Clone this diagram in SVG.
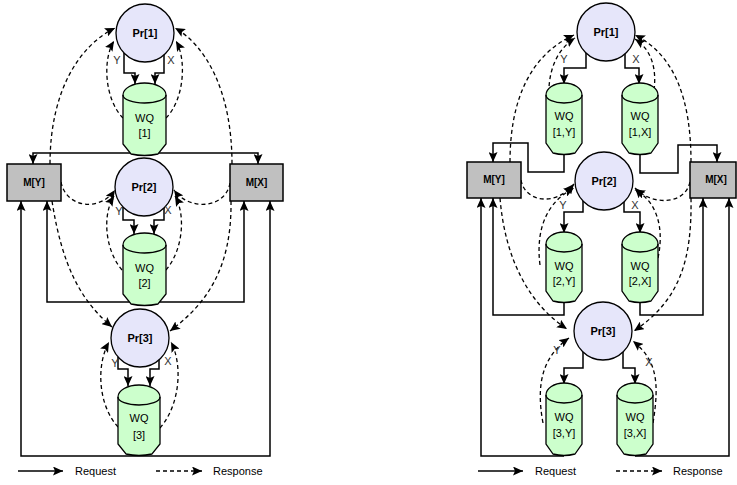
<svg xmlns="http://www.w3.org/2000/svg" width="737" height="485" viewBox="0 0 737 485">
<style>
.pr{fill:#e6e6fa;stroke:#000;stroke-width:1.3}
.wq{fill:#ccffcc;stroke:#000;stroke-width:1.3}
.in{fill:none;stroke:#000;stroke-width:1.3}
.m{fill:#c0c0c0;stroke:#000;stroke-width:1.5}
.req{fill:none;stroke:#000;stroke-width:1.5;marker-end:url(#ah)}
.rsp{fill:none;stroke:#000;stroke-width:1.3;stroke-dasharray:4 3;marker-end:url(#ah)}
.tb{font-family:"Liberation Sans",Arial,sans-serif;font-weight:bold;font-size:11px;text-anchor:middle;fill:#000}
.tm{font-family:"Liberation Sans",Arial,sans-serif;font-weight:bold;font-size:10px;text-anchor:middle;fill:#000}
.t{font-family:"Liberation Sans",Arial,sans-serif;font-size:11px;text-anchor:middle;fill:#000}
.lb{font-family:"Liberation Sans",Arial,sans-serif;font-size:11px;text-anchor:middle;fill:#333}
.lg{font-family:"Liberation Sans",Arial,sans-serif;font-size:11px;fill:#000}
</style>
<defs>
<marker id="ah" viewBox="0 0 10 9" refX="10" refY="4.5" markerWidth="10" markerHeight="9" markerUnits="userSpaceOnUse" orient="auto">
<path d="M0,0 L10,4.5 L0,9 L2,4.5 Z" fill="#000" stroke="none"/>
</marker>
</defs>

<!-- LEFT DIAGRAM -->
<g id="connectors-left">
<path class="req" d="M144,153 H33 V164"/>
<path class="req" d="M144,153 H258 V164"/>
<path class="req" d="M145,302 H47 V201"/>
<path class="req" d="M145,302 H244 V201"/>
<path class="req" d="M139,456 H21 V201"/>
<path class="req" d="M139,456 H270 V201"/>
<path class="req" d="M124,53 V73 H135 V84"/>
<path class="req" d="M164,54 V73 H155 V84"/>
<path class="req" d="M123,207 V220 H134 V234"/>
<path class="req" d="M164,208 V220 H154 V234"/>
<path class="req" d="M118,357 V369 H128 V386"/>
<path class="req" d="M159,360 V369 H150 V386"/>
<path class="rsp" d="M50,164 C50,90 80,45 115,28"/>
<path class="rsp" d="M123,118 C105,100 102,60 114,41"/>
<path class="rsp" d="M232,164 C232,90 205,45 175,28"/>
<path class="rsp" d="M166,118 C184,100 187,60 176,41"/>
<path class="rsp" d="M61,182 C66,208 100,212 115,190"/>
<path class="rsp" d="M122,270 C105,250 102,215 114,196"/>
<path class="rsp" d="M230,183 C226,208 190,212 174,190"/>
<path class="rsp" d="M166,270 C183,250 186,215 175,196"/>
<path class="rsp" d="M52,201 C62,265 80,300 112,327"/>
<path class="rsp" d="M118,427 C98,405 96,365 109,342"/>
<path class="rsp" d="M231,201 C232,270 205,305 170,331"/>
<path class="rsp" d="M160,428 C180,405 183,365 171,342"/>
</g>

<g id="L-Pr1"><circle class="pr" cx="145" cy="33" r="29"/><text class="tb" x="145" y="37">Pr[1]</text>
<text class="lb" x="117" y="64">Y</text><text class="lb" x="171" y="64">X</text></g>
<g id="L-WQ1"><path class="wq" d="M123,95 A21.5,12 0 0 1 166,95 L166,144 L158,154 Q144.5,157 131,154 L123,144 Z"/><path class="in" d="M123,95 A21.5,8 0 0 0 166,95"/>
<text class="t" x="144.5" y="122">WQ</text><text class="t" x="144.5" y="137">[1]</text></g>
<g id="L-MY"><rect class="m" x="7" y="164" width="54" height="37"/><text class="tm" x="34" y="186">M[Y]</text></g>
<g id="L-MX"><rect class="m" x="230" y="164" width="53" height="37"/><text class="tm" x="256.5" y="186">M[X]</text></g>
<g id="L-Pr2"><circle class="pr" cx="144" cy="187" r="29"/><text class="tb" x="144" y="191">Pr[2]</text>
<text class="lb" x="119" y="215">Y</text><text class="lb" x="168" y="214">X</text></g>
<g id="L-WQ2"><path class="wq" d="M123,245 A21.5,12 0 0 1 166,245 L166,294 L158,304 Q144.5,307 131,304 L123,294 Z"/><path class="in" d="M123,245 A21.5,8 0 0 0 166,245"/>
<text class="t" x="144.5" y="272">WQ</text><text class="t" x="144.5" y="287">[2]</text></g>
<g id="L-Pr3"><circle class="pr" cx="140" cy="338" r="29"/><text class="tb" x="140" y="342">Pr[3]</text>
<text class="lb" x="115" y="367">Y</text><text class="lb" x="168" y="365">X</text></g>
<g id="L-WQ3"><path class="wq" d="M118,397 A21,12 0 0 1 160,397 L160,444 L152,454 Q139,457 126,454 L118,444 Z"/><path class="in" d="M118,397 A21,8 0 0 0 160,397"/>
<text class="t" x="139" y="422">WQ</text><text class="t" x="139" y="439">[3]</text></g>
<g id="L-legend">
<path class="req" d="M18,471 H63"/><text class="lg" x="75" y="475">Request</text>
<path class="rsp" d="M156,471 H202"/><text class="lg" x="213" y="475">Response</text>
</g>

<!-- RIGHT DIAGRAM -->
<g id="connectors-right">
<path class="req" d="M564,154 V172 H528 V143 H493 V162"/>
<path class="req" d="M640,154 V173 H678 V145 H717 V162"/>
<path class="req" d="M564,302 V315 H493 V198"/>
<path class="req" d="M640,302 V315 H703 V198"/>
<path class="req" d="M564,456 H481 V198"/>
<path class="req" d="M635,456 H729 V198"/>
<path class="req" d="M586,53 V68 H564 V84"/>
<path class="req" d="M625,54 V68 H639 V84"/>
<path class="req" d="M583,201 V212 H564 V233"/>
<path class="req" d="M624,202 V212 H640 V233"/>
<path class="req" d="M583,352 V368 H564 V384"/>
<path class="req" d="M623,352 V368 H635 V384"/>
<path class="rsp" d="M510,162 C510,100 530,55 574,35"/>
<path class="rsp" d="M551,114 C546,90 548,55 575,38"/>
<path class="rsp" d="M691,162 C691,100 675,55 635,35"/>
<path class="rsp" d="M653,97 C658,70 652,50 635,39"/>
<path class="rsp" d="M521,180 C525,202 555,207 574,184"/>
<path class="rsp" d="M540,265 C535,225 550,200 574,188"/>
<path class="rsp" d="M690,182 C685,205 652,206 635,188"/>
<path class="rsp" d="M658,258 C665,225 655,200 635,190"/>
<path class="rsp" d="M500,198 C505,260 530,305 567,329"/>
<path class="rsp" d="M543,423 C535,380 545,355 569,338"/>
<path class="rsp" d="M691,198 C692,260 680,300 634,331"/>
<path class="rsp" d="M653,423 C660,380 656,360 633,341"/>
</g>

<g id="R-Pr1"><circle class="pr" cx="606" cy="32" r="29"/><text class="tb" x="606" y="36">Pr[1]</text>
<text class="lb" x="564" y="63">Y</text><text class="lb" x="636" y="63">X</text></g>
<g id="R-WQ1Y"><path class="wq" d="M546,95 A18,12 0 0 1 582,95 L582,143 L575,153 Q564,156 553,153 L546,143 Z"/><path class="in" d="M546,95 A18,8 0 0 0 582,95"/>
<text class="t" x="564" y="120">WQ</text><text class="t" x="564" y="136">[1,Y]</text></g>
<g id="R-WQ1X"><path class="wq" d="M622,95 A18,12 0 0 1 658,95 L658,143 L651,153 Q640,156 629,153 L622,143 Z"/><path class="in" d="M622,95 A18,8 0 0 0 658,95"/>
<text class="t" x="640" y="120">WQ</text><text class="t" x="640" y="136">[1,X]</text></g>
<g id="R-MY"><rect class="m" x="467" y="162" width="54" height="36"/><text class="tm" x="494" y="183">M[Y]</text></g>
<g id="R-MX"><rect class="m" x="690" y="162" width="46" height="36"/><text class="tm" x="716" y="183">M[X]</text></g>
<g id="R-Pr2"><circle class="pr" cx="604" cy="181" r="29"/><text class="tb" x="604" y="185">Pr[2]</text>
<text class="lb" x="563" y="209">Y</text><text class="lb" x="635" y="209">X</text></g>
<g id="R-WQ2Y"><path class="wq" d="M546,244 A18,12 0 0 1 582,244 L582,291 L575,301 Q564,304 553,301 L546,291 Z"/><path class="in" d="M546,244 A18,8 0 0 0 582,244"/>
<text class="t" x="564" y="270">WQ</text><text class="t" x="564" y="285">[2,Y]</text></g>
<g id="R-WQ2X"><path class="wq" d="M622,244 A18,12 0 0 1 658,244 L658,291 L651,301 Q640,304 629,301 L622,291 Z"/><path class="in" d="M622,244 A18,8 0 0 0 658,244"/>
<text class="t" x="640" y="270">WQ</text><text class="t" x="640" y="285">[2,X]</text></g>
<g id="R-Pr3"><circle class="pr" cx="603" cy="331" r="29"/><text class="tb" x="603" y="335">Pr[3]</text>
<text class="lb" x="557" y="354">Y</text><text class="lb" x="649" y="366">X</text></g>
<g id="R-WQ3Y"><path class="wq" d="M546,395 A18,12 0 0 1 582,395 L582,444 L575,454 Q564,457 553,454 L546,444 Z"/><path class="in" d="M546,395 A18,8 0 0 0 582,395"/>
<text class="t" x="564" y="421">WQ</text><text class="t" x="564" y="437">[3,Y]</text></g>
<g id="R-WQ3X"><path class="wq" d="M617,395 A18,12 0 0 1 653,395 L653,444 L646,454 Q635,457 624,454 L617,444 Z"/><path class="in" d="M617,395 A18,8 0 0 0 653,395"/>
<text class="t" x="635" y="421">WQ</text><text class="t" x="635" y="437">[3,X]</text></g>
<g id="R-legend">
<path class="req" d="M478,471 H523"/><text class="lg" x="535" y="475">Request</text>
<path class="rsp" d="M616,471 H662"/><text class="lg" x="673" y="475">Response</text>
</g>
</svg>
